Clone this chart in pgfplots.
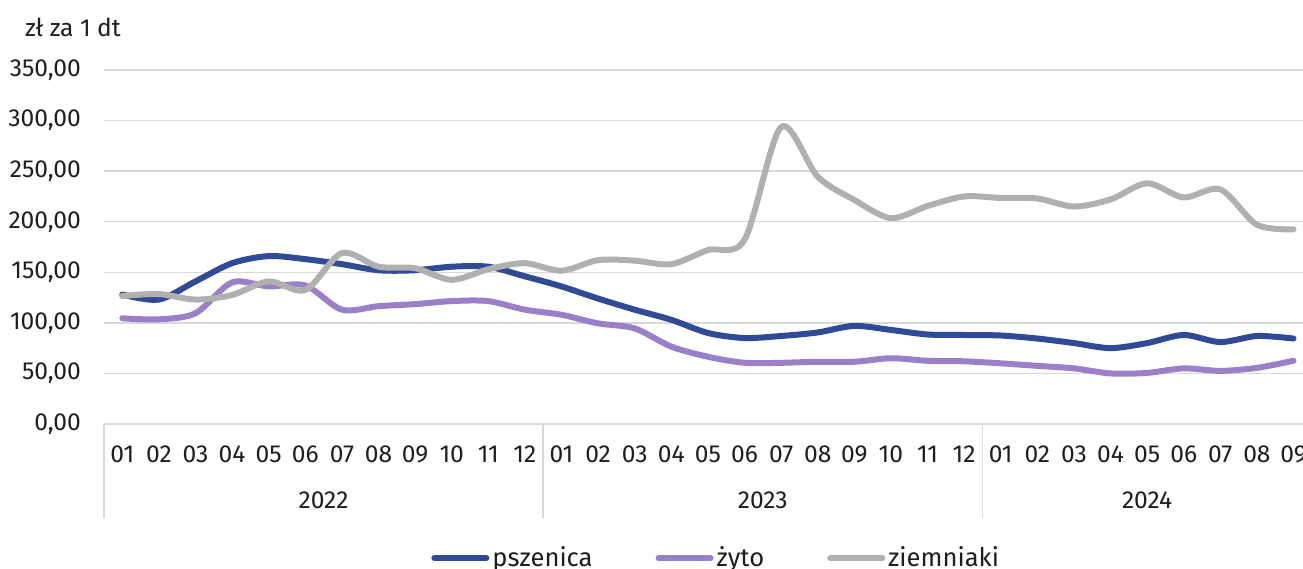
\documentclass[border=0pt]{standalone}
\usepackage{pgfplots}
\usepackage{pgfplotstable}
\usepackage{fontspec}
\setmainfont{Fira Sans}
\pgfplotsset{compat=1.18}
\definecolor{cblue}{RGB}{47,74,150}
\definecolor{cpurp}{RGB}{155,127,200}
\definecolor{cgray}{RGB}{176,176,176}
\definecolor{cgrid}{RGB}{217,217,217}
\definecolor{ctext}{RGB}{30,30,30}
\pgfplotstableread{
i psz zyto ziem
0 128 104.5 126.5
1 123 103.5 128.5
2 141 109.5 123
3 159 140 127.5
4 166 136 141
5 163 137 132.5
6 158 113 169
7 152 116.5 155.5
8 152 118.5 154
9 155.5 121.5 142.5
10 155.5 121.5 153
11 146 113 159
12 136 108 151.5
13 124 99.5 162
14 113 94.5 161.5
15 103 76.5 158
16 90 66.5 172
17 85 60.5 182
18 87 60.5 293.5
19 90.5 61.5 244.5
20 97 61.5 221.5
21 93 65 203.5
22 88.5 62.5 215.5
23 88 62 225
24 87.5 60 223.5
25 84.5 57.5 223
26 80 55 215
27 75 50 222
28 80 50.5 238
29 88 55 224
30 81 52.5 232
31 87 55.5 197
32 84.5 62.5 192.5
}\data
\begin{document}
\begin{tikzpicture}[font=\fontsize{12.3pt}{14pt}\selectfont, text=ctext]
\begin{axis}[
  scale only axis,
  width=599.5pt, height=177pt,
  xmin=-0.5, xmax=32.26,
  ymin=0, ymax=350,
  ytick={0,50,...,350},
  xtick={0,...,32},
  xticklabels={01,02,03,04,05,06,07,08,09,10,11,12,01,02,03,04,05,06,07,08,09,10,11,12,01,02,03,04,05,06,07,08,09},
  major tick length=0pt,
  axis x line*=bottom, axis y line*=left,
  x axis line style={draw=cgrid, line width=0.75pt, -},
  y axis line style={draw=none},
  ymajorgrids, grid style={draw=cgrid, line width=0.75pt},
  yticklabel style={/pgf/number format/fixed, /pgf/number format/fixed zerofill, /pgf/number format/precision=2, /pgf/number format/use comma, /pgf/number format/1000 sep={}, /pgf/number format/assume math mode=true, xshift=-8pt},
  xticklabel style={yshift=-7.5pt},
  clip=false,
  legend columns=3,
  legend style={at={(0.511,0)}, anchor=center, yshift=-67pt, draw=none, fill=none,
    /tikz/every even column/.append style={column sep=30pt}, font=\fontsize{12.8pt}{15pt}\selectfont,
    nodes={inner xsep=1.5pt}},
  legend image code/.code={\draw[#1, line width=3pt, line cap=round] (0pt,0pt) -- (26pt,0pt);},
  every axis plot/.append style={line width=3pt, smooth, line cap=round, line join=round},
]
\addplot[cblue] table[x=i, y=psz] {\data};
\addlegendentry{pszenica}
\addplot[cpurp] table[x=i, y=zyto] {\data};
\addlegendentry{żyto}
\addplot[cgray] table[x=i, y=ziem] {\data};
\addlegendentry{ziemniaki}
\draw[cgrid, line width=0.75pt] (axis cs:-0.5,0) -- ([yshift=-47pt]axis cs:-0.5,0);
\draw[cgrid, line width=0.75pt] (axis cs:11.5,0) -- ([yshift=-47pt]axis cs:11.5,0);
\draw[cgrid, line width=0.75pt] (axis cs:23.5,0) -- ([yshift=-47pt]axis cs:23.5,0);
\node at ([yshift=-38pt]axis cs:5.5,0) {2022};
\node at ([yshift=-38pt]axis cs:17.5,0) {2023};
\node at ([yshift=-38pt]axis cs:28,0) {2024};
\node[anchor=west] at ([xshift=-43pt, yshift=21.5pt]rel axis cs:0,1) {zł za 1 dt};
\coordinate (bbsw) at (rel axis cs:0,0);
\coordinate (bbne) at (rel axis cs:1,1);
\end{axis}
\pgfresetboundingbox
\path[use as bounding box] ([xshift=-52pt,yshift=-72.5pt]bbsw) rectangle ([yshift=35pt]bbne);
\end{tikzpicture}
\end{document}
